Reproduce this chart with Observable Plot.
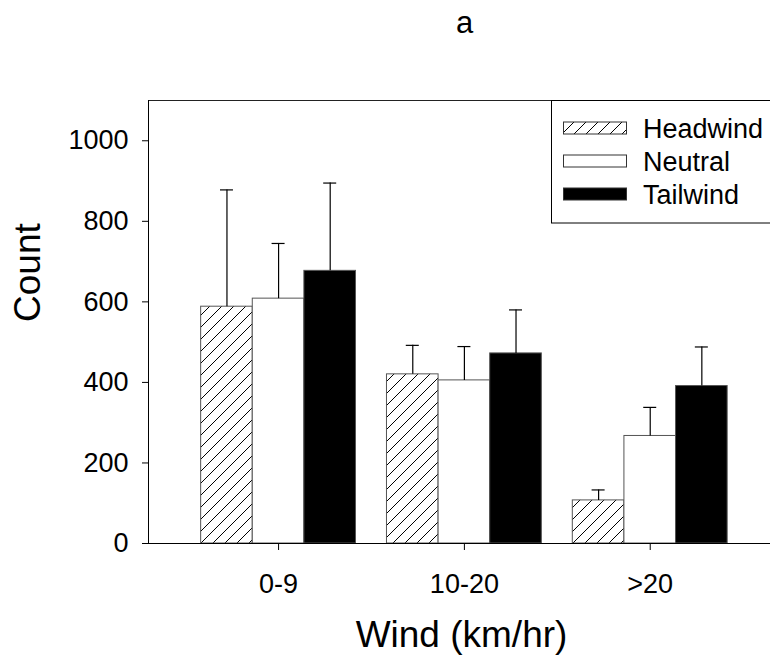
<!DOCTYPE html>
<html><head><meta charset="utf-8">
<script src="https://cdn.jsdelivr.net/npm/d3@7"></script>
<script src="https://cdn.jsdelivr.net/npm/@observablehq/plot@0.6"></script>
<style>body{margin:0;background:#fff;} #chart{width:770px;height:660px;}</style>
</head><body><div id="chart"></div>
<script>
// ---- data ----
const groups = ["0-9", "10-20", ">20"];
const seriesNames = ["Headwind", "Neutral", "Tailwind"];
const headwind = [588, 420, 107];
const neutral = [608, 405, 267];
const tailwind = [677, 472, 391];
const headwindErr = [290, 72, 26];
const neutralErr = [137, 84, 71];
const tailwindErr = [218, 108, 97];
const yTicks = [0, 200, 400, 600, 800, 1000];

// ---- build table ----
const groupWidth = 5 / 6;
const barW = groupWidth / 3;
const capHalf = 0.035;
const allVals = [headwind, neutral, tailwind];
const allErrs = [headwindErr, neutralErr, tailwindErr];
const rows = [];
allVals.forEach((vals, si) => vals.forEach((v, gi) => {
  const x1 = gi - groupWidth / 2 + si * barW;
  rows.push({group: groups[gi], series: seriesNames[si], x1, x2: x1 + barW, xc: x1 + barW / 2,
             value: v, upper: v + allErrs[si][gi]});
}));
const fills = ["url(#hatch)", "white", "black"];
const xDomain = [-0.7, 2.7];

const svg = Plot.plot({
  width: 770, height: 660,
  marginTop: 100, marginBottom: 117, marginLeft: 148, marginRight: 0,
  style: {fontFamily: "'Liberation Sans', Arial, sans-serif", fontSize: "27px", color: "black", background: "white", overflow: "hidden"},
  x: {domain: xDomain, range: [148, 779.8], ticks: [0, 1, 2], tickFormat: i => groups[i], tickSize: 7, tickPadding: 23, label: null},
  y: {domain: [0, 1100], ticks: yTicks, tickFormat: d => String(d), tickSize: 6, tickPadding: 14, label: null},
  color: {domain: seriesNames, range: fills},
  marks: [
    Plot.rectY(rows, {x1: "x1", x2: "x2", y: "value", fill: "series", stroke: "#555", strokeWidth: 1}),
    Plot.ruleX(rows, {x: "xc", y1: "value", y2: "upper", stroke: "black", strokeWidth: 1.2}),
    Plot.ruleY(rows, {y: "upper", x1: d => d.xc - capHalf, x2: d => d.xc + capHalf, stroke: "black", strokeWidth: 1.2}),
    Plot.ruleY([0], {stroke: "black"}),
    Plot.ruleY([1100], {stroke: "#222"}),
    Plot.ruleX([xDomain[0]], {stroke: "black"}),
    Plot.text(["Count"], {text: d => d, frameAnchor: "left", rotate: -90, dx: -120, fontSize: 37}),
    Plot.text(["Wind (km/hr)"], {text: d => d, frameAnchor: "bottom", dy: 103, dx: 2, fontSize: 37}),
    Plot.text(["a"], {text: d => d, frameAnchor: "top", dy: -90, dx: 5, fontSize: 31})
  ]
});

// hatch pattern
const defs = d3.select(svg).insert("defs", ":first-child");
const pat = defs.append("pattern").attr("id", "hatch").attr("patternUnits", "userSpaceOnUse")
  .attr("width", 12).attr("height", 12);
pat.append("rect").attr("width", 12).attr("height", 12).attr("fill", "white");
pat.append("path").attr("d", "M-3,3L3,-3M0,12L12,0M9,15L15,9").attr("stroke", "black").attr("stroke-width", 1);

// legend
const lg = d3.select(svg).append("g").attr("text-anchor", "start");
lg.append("rect").attr("x", 551.5).attr("y", 100.5).attr("width", 240).attr("height", 122.5)
  .attr("fill", "white").attr("stroke", "black");
seriesNames.forEach((s, i) => {
  const cy = 128 + i * 33;
  lg.append("rect").attr("x", 563.5).attr("y", cy - 6).attr("width", 63).attr("height", 12)
    .attr("fill", fills[i]).attr("stroke", "#333");
  lg.append("text").attr("x", 643).attr("y", cy).attr("dy", "0.36em").attr("font-size", 27)
    .attr("text-anchor", "start").attr("fill", "black").text(s);
});

document.getElementById("chart").appendChild(svg);
</script>
</body></html>
